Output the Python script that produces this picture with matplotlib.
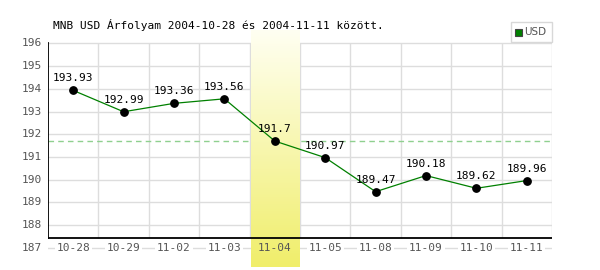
import numpy as np
import matplotlib
matplotlib.use("Agg")
import matplotlib.pyplot as plt
from matplotlib.colors import LinearSegmentedColormap
from matplotlib.patches import Rectangle

dates = ['10-28', '10-29', '11-02', '11-03', '11-04',
         '11-05', '11-08', '11-09', '11-10', '11-11']
usd = [193.93, 192.99, 193.36, 193.56, 191.7,
       190.97, 189.47, 190.18, 189.62, 189.96]
yticks = [187, 188, 189, 190, 191, 192, 193, 194, 195, 196]
highlight = 4  # 11-04
title = 'MNB USD Árfolyam 2004-10-28 és 2004-11-11 között.'

mono = 'DejaVu Sans Mono'
grid_c = '#dddddd'
tick_c = '#555555'

fig = plt.figure(figsize=(6, 2.7), dpi=100)
ax = fig.add_axes([48 / 600, 2 / 270, 504 / 600, 238 / 270])
ax.set_xlim(0, len(dates))
ax.set_ylim(186.11, 196.59)
for s in ax.spines.values():
    s.set_visible(False)
ax.set_xticks([])
ax.set_yticks([])

x = np.arange(len(dates)) + 0.5
axis_y = 187.42

# horizontal grid + y labels
for v in yticks:
    ax.plot([0, len(dates)], [v, v], color=grid_c, lw=1, zorder=1)
    ax.text(-0.12, v, str(v), ha='right', va='center', color=tick_c,
            fontsize=8, family=mono)
# vertical grid
ax.vlines(np.arange(1, len(dates) + 1), axis_y, 196, color=grid_c, lw=1, zorder=1)

# dashed reference line at highlighted value
ax.axhline(usd[highlight], color='#8fd08f', lw=1, ls=(0, (4, 3)), zorder=1)

# highlighted day band with gradient
cmap = LinearSegmentedColormap.from_list('hl', ['#fffff2', '#f0ee6a'])
grad = np.linspace(0, 1, 256).reshape(-1, 1)
ax.imshow(grad, cmap=cmap, aspect='auto', origin='upper',
          extent=[highlight + 0.02, highlight + 0.98, 186.15, 196.55], zorder=2)

# axes lines
ax.plot([0, len(dates)], [axis_y, axis_y], color='black', lw=1.3, zorder=3)
ax.plot([0, 0], [axis_y, 196], color='black', lw=1.3, zorder=3)

# x labels on the 187 line
for i, d in enumerate(dates):
    fc = 'none' if i == highlight else 'white'
    ax.text(x[i], 187, d, ha='center', va='center', color=tick_c, fontsize=8,
            family=mono, zorder=4,
            bbox=dict(facecolor=fc, edgecolor='none', pad=1.2))

# series
ax.plot(x, usd, color='#008000', lw=0.9, zorder=5)
ax.scatter(x, usd, s=28, color='black', zorder=6)
for xi, v in zip(x, usd):
    ax.annotate(f'{v:g}', (xi, v), xytext=(0, 5), textcoords='offset points',
                ha='center', va='bottom', fontsize=8, family=mono, zorder=7)

fig.text(53 / 600, 1 - 25 / 270, title, ha='left', va='center', fontsize=8,
         family=mono)

# legend box
fig.patches.append(Rectangle((511 / 600, 1 - 42 / 270), 41 / 600, 20 / 270,
                             transform=fig.transFigure, facecolor='white',
                             edgecolor='#d8d8d8', lw=1))
fig.patches.append(Rectangle((515 / 600, 1 - 36 / 270), 7 / 600, 7 / 270,
                             transform=fig.transFigure, facecolor='#008000',
                             edgecolor='#444444', lw=0.8))
fig.text(524 / 600, 1 - 32 / 270, 'USD', ha='left', va='center', fontsize=7.5,
         color=tick_c, family='Liberation Sans Narrow')

fig.savefig('out.png', dpi=100)
